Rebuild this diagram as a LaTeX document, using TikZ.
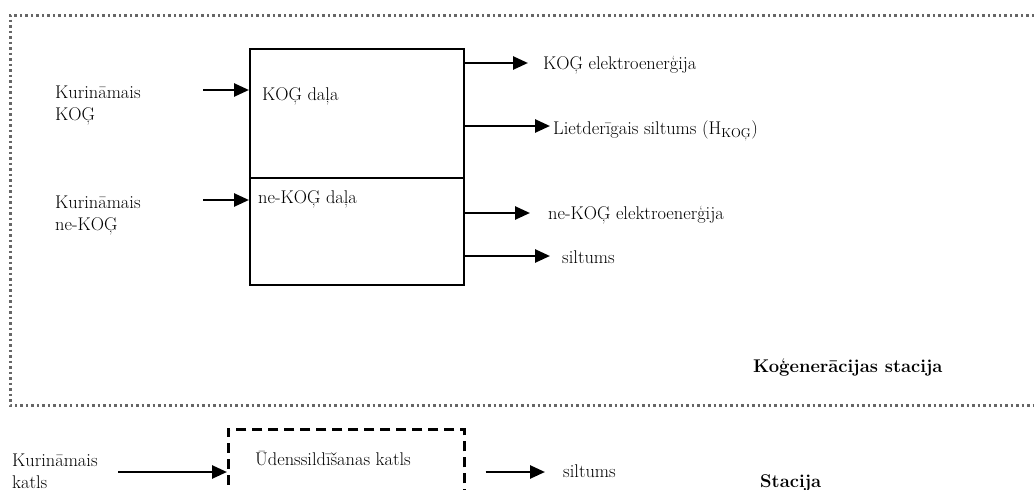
\documentclass[tikz,border=0pt]{standalone}
\usepackage{fontspec}
\usetikzlibrary{positioning,arrows.meta}

\begin{document}
\begin{tikzpicture}[
    x=1pt, y=-1pt,
    txt/.style={inner sep=0pt, font=\fontsize{18.4}{22}\selectfont},
    box/.style={draw, line width=1.6pt, minimum width=214pt, inner sep=0pt, anchor=north west},
    dashbox/.style={draw, line width=2.6pt, dash pattern=on 10pt off 6pt,
      minimum width=236pt, minimum height=90pt, inner sep=0pt, anchor=north west},
    arr/.style={-{Triangle[length=15pt,width=13pt]}, line width=2.6pt},
    frame/.style={draw=black!60, line width=3pt, dash pattern=on 2.5pt off 3pt}
  ]
    \useasboundingbox (0,0) rectangle (1034,490);

    % cogeneration station frame
    \draw[frame] (1034,15) -- (10,15) -- (10,405) -- (1034,405);
    \node[txt, anchor=base west] (chp) at (753,372) {\bfseries Koģenerācijas stacija};

    % plant parts
    \node[box, minimum height=129pt] (kog) at (249,48) {};
    \node[box, minimum height=107pt] (nekog) at (249,177) {};
    \node[txt, anchor=base west] (koglab) at (262,100) {KOĢ daļa};
    \node[txt, anchor=base west] (nekoglab) at (258,203) {ne-KOĢ daļa};

    % fuel in (base = last line)
    \node[txt, align=left, anchor=base west] (fuel1) at (55,120) {Kurināmais\\KOĢ};
    \node[txt, align=left, anchor=base west] (fuel2) at (55,230) {Kurināmais\\ne-KOĢ};
    \coordinate (in1) at (203,90);
    \coordinate (in2) at (203,200);
    \draw[arr] (in1) -- (in1 -| kog.west);
    \draw[arr] (in2) -- (in2 -| nekog.west);

    % outputs
    \node[txt, anchor=base west] (el1) at (543,69) {KOĢ elektroenerģija};
    \node[txt, anchor=base west] (heat1) at (553,134) {Lietderīgais siltums (H\textsubscript{KOĢ})};
    \node[txt, anchor=base west] (el2) at (548,219) {ne-KOĢ elektroenerģija};
    \node[txt, anchor=base west] (heat2) at (562,263) {siltums};
    \coordinate (o1) at (528,63);
    \coordinate (o2) at (550,126);
    \coordinate (o3) at (530,213);
    \coordinate (o4) at (550,256);
    \draw[arr] (o1 -| kog.east) -- (o1);
    \draw[arr] (o2 -| kog.east) -- (o2);
    \draw[arr] (o3 -| nekog.east) -- (o3);
    \draw[arr] (o4 -| nekog.east) -- (o4);

    % boiler station
    \node[dashbox] (boiler) at (227,428) {};
    \node[txt, anchor=base west] (boilerlab) at (255,465) {Ūdenssildīšanas katls};
    \node[txt, align=left, anchor=base west] (fuel3) at (12,488) {Kurināmais\\katls};
    \node[txt, anchor=base west] (heat3) at (563,477) {siltums};
    \node[txt, anchor=base west] (st) at (760,487) {\bfseries Stacija};
    \coordinate (in3) at (118,472);
    \coordinate (o5) at (545,472);
    \draw[arr] (in3) -- (in3 -| boiler.west);
    \draw[arr] ([xshift=20pt]o5 -| boiler.east) -- (o5);
\end{tikzpicture}
\end{document}
